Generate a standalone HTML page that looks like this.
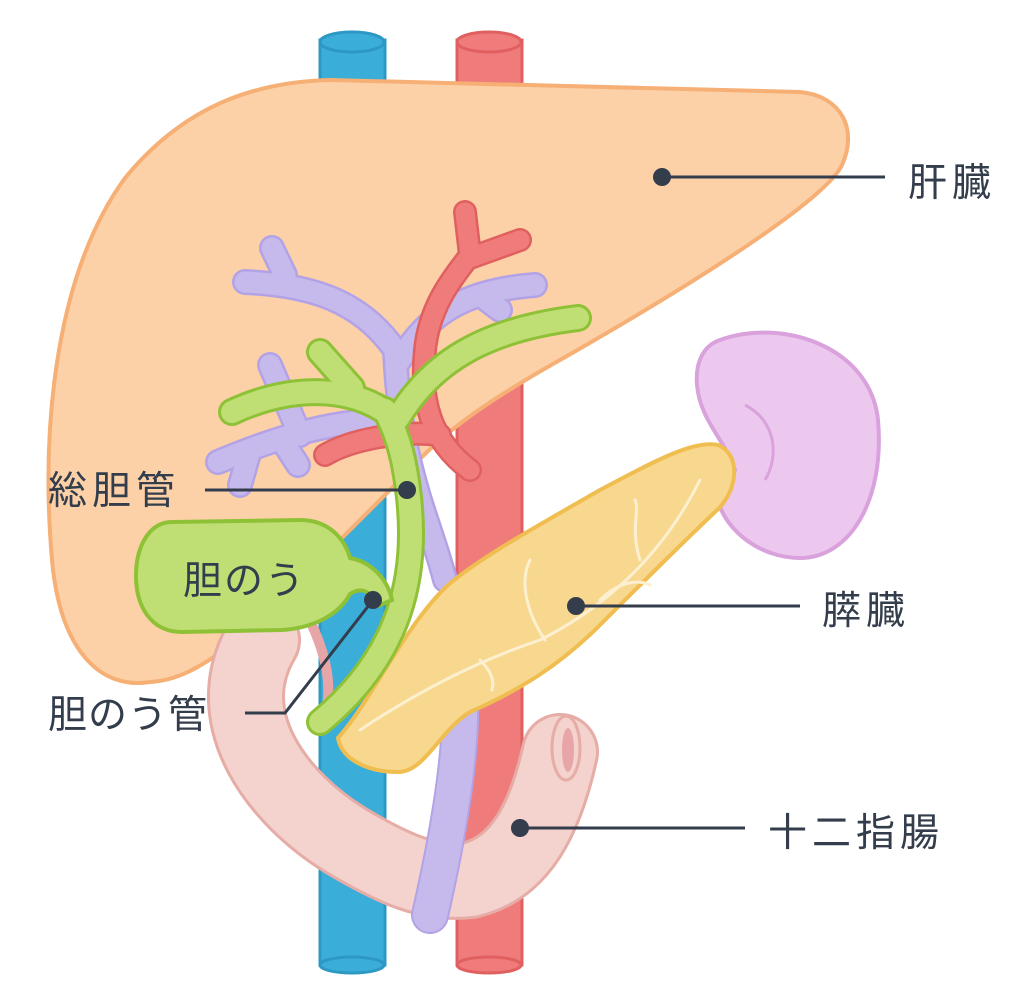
<!DOCTYPE html>
<html><head><meta charset="utf-8"><style>
html,body{margin:0;padding:0;background:#fff;width:1021px;height:1000px;overflow:hidden}
text{font-family:"Liberation Sans","Noto Sans CJK JP",sans-serif;fill:#333d4c;font-size:39px;letter-spacing:5px}
</style></head><body>
<svg width="1021" height="1000" viewBox="0 0 1021 1000" xmlns="http://www.w3.org/2000/svg">
<rect x="320" y="40" width="65" height="925" fill="#3AAED8" stroke="#2E98C4" stroke-width="3"/>
<ellipse cx="352" cy="42" rx="32" ry="10" fill="#3AAED8" stroke="#2E98C4" stroke-width="3"/>
<ellipse cx="352" cy="965" rx="32" ry="8" fill="#3AAED8" stroke="#2E98C4" stroke-width="3"/>
<rect x="457" y="40" width="65" height="925" fill="#F07B7B" stroke="#E06060" stroke-width="3"/>
<ellipse cx="489" cy="42" rx="32" ry="10" fill="#F07B7B" stroke="#E06060" stroke-width="3"/>
<ellipse cx="489" cy="965" rx="32" ry="8" fill="#F07B7B" stroke="#E06060" stroke-width="3"/>
<path d="M150,682 C100,690 60,650 52,560 C40,420 58,270 125,178 C185,105 255,82 330,80 L800,92 C842,96 858,130 842,165 C825,200 700,280 560,360 C480,405 440,435 405,475 L310,570 C250,630 200,680 150,682 Z" fill="#FDD1A8" stroke="#F6AF74" stroke-width="4"/>
<path d="M262,640 C215,720 280,800 345,840 C395,870 430,885 470,880 C520,868 545,820 560,752" fill="none" stroke="#E6ACA6" stroke-width="78" stroke-linecap="round"/>
<path d="M262,640 C215,720 280,800 345,840 C395,870 430,885 470,880 C520,868 545,820 560,752" fill="none" stroke="#F4D2CD" stroke-width="72" stroke-linecap="round"/>
<ellipse cx="566" cy="748" rx="14" ry="32" fill="#F4D2CD" stroke="#E6ACA6" stroke-width="3"/>
<ellipse cx="568" cy="750" rx="6" ry="22" fill="#E8A5A8"/>
<path d="M312,625 C328,660 332,690 325,715" fill="none" stroke="#E8A5A8" stroke-width="10" stroke-linecap="round"/>
<path d="M720,340 C780,318 870,345 878,420 C885,500 850,558 800,558 C760,558 725,530 718,500 L735,470 C725,440 700,420 697,385 C695,360 705,345 720,340 Z" fill="#EDC8EE" stroke="#D9A2DD" stroke-width="4"/>
<path d="M745,405 C775,420 780,455 765,480" fill="none" stroke="#D9A2DD" stroke-width="3"/>
<g fill="none" stroke-linecap="round" stroke-linejoin="round">
<g stroke="#B3A3E6" stroke-width="38"><path d="M430,915 C445,850 462,760 460,700"/></g>
<g stroke="#C6B9EB" stroke-width="34"><path d="M430,915 C445,850 462,760 460,700"/></g>
<g stroke="#B3A3E6" stroke-width="26">
<path d="M445,580 C430,520 400,470 395,350"/>
<path d="M395,350 C360,300 310,285 245,282"/><path d="M285,275 L272,248"/>
<path d="M400,360 C430,310 470,290 535,285"/><path d="M480,295 L500,310"/>
<path d="M390,420 C330,420 270,440 218,462"/><path d="M300,435 L270,365"/><path d="M285,445 L298,465"/><path d="M250,450 L240,485"/>
</g>
<g stroke="#C6B9EB" stroke-width="21">
<path d="M445,580 C430,520 400,470 395,350"/>
<path d="M395,350 C360,300 310,285 245,282"/><path d="M285,275 L272,248"/>
<path d="M400,360 C430,310 470,290 535,285"/><path d="M480,295 L500,310"/>
<path d="M390,420 C330,420 270,440 218,462"/><path d="M300,435 L270,365"/><path d="M285,445 L298,465"/><path d="M250,450 L240,485"/>
</g>
<g stroke="#E06060" stroke-width="24">
<path d="M470,470 C430,440 420,400 425,350 C430,300 460,270 470,255 L465,212"/>
<path d="M470,258 L520,240"/><path d="M440,435 C400,430 350,440 325,455"/>
</g>
<g stroke="#F07B7B" stroke-width="19">
<path d="M470,470 C430,440 420,400 425,350 C430,300 460,270 470,255 L465,212"/>
<path d="M470,258 L520,240"/><path d="M440,435 C400,430 350,440 325,455"/>
</g>
</g>
<path d="M338,738 C372,700 405,625 448,585 C480,558 530,530 600,490 C660,458 695,440 718,445 C742,455 738,492 715,512 C680,545 640,585 600,625 C560,665 520,690 470,712 C440,730 425,772 398,772 C368,772 342,760 338,738 Z" fill="#F8D78E" stroke="#F0BE50" stroke-width="4"/>
<g fill="none" stroke="#FDF0D0" stroke-width="3" stroke-linecap="round">
<path d="M360,730 C420,690 480,660 540,640 C600,610 660,560 700,480"/>
<path d="M545,640 C525,610 520,580 530,560"/><path d="M480,660 C490,670 495,680 492,690"/><path d="M640,560 C630,530 640,510 635,500"/><path d="M600,600 C620,580 640,580 650,585"/>
</g>
<g fill="none" stroke-linecap="round" stroke-linejoin="round">
<g stroke="#8FC137" stroke-width="28">
<path d="M320,722 C395,660 425,580 405,470 C400,440 390,420 385,410"/>
<path d="M390,415 C350,385 290,385 232,412"/><path d="M352,388 L320,352"/>
<path d="M398,418 C430,365 480,330 578,318"/>
</g>
<g stroke="#BFDF75" stroke-width="22">
<path d="M320,722 C395,660 425,580 405,470 C400,440 390,420 385,410"/>
<path d="M390,415 C350,385 290,385 232,412"/><path d="M352,388 L320,352"/>
<path d="M398,418 C430,365 480,330 578,318"/>
</g>
</g>
<path d="M172,522 L300,520 C330,520 345,540 350,558 C372,562 388,580 392,600 L378,606 C372,592 362,586 350,594 C338,616 312,628 282,630 L182,632 C150,632 136,605 136,576 C136,545 150,522 172,522 Z" fill="#BFDF75" stroke="#8FC137" stroke-width="4"/>
<text x="183" y="594" style="letter-spacing:2px">胆のう</text>
<g stroke="#333d4c" stroke-width="3" fill="none">
<line x1="662" y1="177" x2="885" y2="177"/>
<line x1="205" y1="490" x2="407" y2="490"/>
<polyline points="245,713 285,713 373,600"/>
<line x1="576" y1="606" x2="800" y2="606"/>
<line x1="520" y1="828" x2="745" y2="828"/>
</g>
<g fill="#333d4c">
<circle cx="662" cy="177" r="9"/><circle cx="407" cy="490" r="9"/><circle cx="373" cy="600" r="9"/><circle cx="576" cy="606" r="9"/><circle cx="520" cy="828" r="9"/>
</g>
<text x="908" y="196">肝臓</text>
<text x="48" y="504">総胆管</text>
<text x="48" y="728" style="letter-spacing:1px">胆のう管</text>
<text x="822" y="624">膵臓</text>
<text x="768" y="846" style="letter-spacing:5px">十二指腸</text>
</svg>
</body></html>
